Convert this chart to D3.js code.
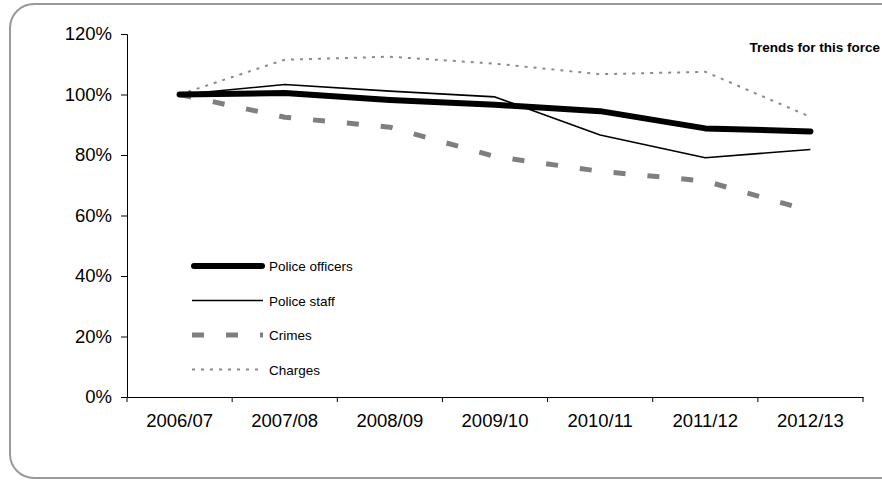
<!DOCTYPE html>
<html>
<head>
<meta charset="utf-8">
<script src="https://cdn.jsdelivr.net/npm/d3@7"></script>
<style>
  body { margin: 0; background: #fff; }
  svg { display: block; font-family: "Liberation Sans", Arial, sans-serif; }
</style>
</head>
<body>
<svg width="882" height="480"></svg>
<script>
const years = ['2006/07', '2007/08', '2008/09', '2009/10', '2010/11', '2011/12', '2012/13'];
const officers = [100, 100.5, 98.2, 96.6, 94.5, 88.8, 87.8];
const staff = [100, 103.3, 101.1, 99.2, 86.6, 79.1, 81.8];
const crimes = [100, 92.5, 89.2, 79.5, 74.6, 71.4, 61.5];
const charges = [100, 111.5, 112.5, 110.2, 106.7, 107.5, 92.6];
const yTicks = [0, 20, 40, 60, 80, 100, 120];

const series = [
  { name: 'Police officers', values: officers, color: '#000', width: 6, dash: null, cap: 'round' },
  { name: 'Police staff', values: staff, color: '#000', width: 1.6, dash: null, cap: 'butt' },
  { name: 'Crimes', values: crimes, color: '#7f7f7f', width: 5, dash: '12,22', cap: 'butt' },
  { name: 'Charges', values: charges, color: '#8a8a8a', width: 2, dash: '3,6', cap: 'butt' },
];

const svg = d3.select('svg');

// rounded frame
svg.append('rect')
  .attr('x', 10).attr('y', 4)
  .attr('width', 900).attr('height', 474)
  .attr('rx', 24).attr('ry', 24)
  .attr('fill', 'none')
  .attr('stroke', '#999')
  .attr('stroke-width', 2);

const plotLeft = 127, plotRight = 863, plotTop = 34, plotBottom = 397;

const x = d3.scaleBand().domain(years).range([plotLeft, plotRight]);
const y = d3.scaleLinear().domain([0, 120]).range([plotBottom, plotTop]);

let yAxis = svg.append('g')
  .attr('transform', `translate(${plotLeft},0)`)
  .call(d3.axisLeft(y).tickValues(yTicks).tickFormat((d) => d + '%').tickSize(6).tickPadding(9));

let xAxis = svg.append('g')
  .attr('transform', `translate(0,${plotBottom})`)
  .call(d3.axisBottom(x).tickSize(0).tickPadding(17));

// tick marks at band edges
xAxis.selectAll('.edge')
  .data(d3.range(years.length + 1))
  .enter()
  .append('line')
  .attr('class', 'edge')
  .attr('x1', (i) => plotLeft + i * x.step())
  .attr('x2', (i) => plotLeft + i * x.step())
  .attr('y1', 0).attr('y2', 5)
  .attr('stroke', '#000');

svg.selectAll('.domain').attr('stroke', '#000');
svg.selectAll('.tick text').attr('font-size', 18.5).attr('fill', '#000').attr('font-family', '"Liberation Sans", Arial, sans-serif');
svg.selectAll('.tick line').attr('stroke', '#000');

const line = d3.line()
  .x((d, i) => x(years[i]) + x.bandwidth() / 2)
  .y((d) => y(d));

svg.selectAll('.series')
  .data(series.slice().reverse())
  .enter()
  .append('path')
  .attr('class', 'series')
  .attr('d', (d) => line(d.values))
  .attr('fill', 'none')
  .attr('stroke', (d) => d.color)
  .attr('stroke-width', (d) => d.width)
  .attr('stroke-dasharray', (d) => d.dash)
  .attr('stroke-linecap', (d) => d.cap)
  .attr('stroke-linejoin', 'round');

// legend
let legend = svg.selectAll('.legend')
  .data(series)
  .enter()
  .append('g')
  .attr('class', 'legend')
  .attr('transform', (d, i) => `translate(0,${266 + i * 34.5})`);

legend.append('line')
  .attr('x1', (d) => (d.cap === 'round' ? 194 : 192))
  .attr('x2', (d) => (d.cap === 'round' ? 262 : 263))
  .attr('stroke', (d) => d.color)
  .attr('stroke-width', (d) => d.width)
  .attr('stroke-dasharray', (d) => d.dash)
  .attr('stroke-linecap', (d) => d.cap);

legend.append('text')
  .attr('x', 269)
  .attr('y', 5)
  .attr('font-size', 13.5)
  .text((d) => d.name);

svg.append('text')
  .attr('x', 880)
  .attr('y', 52)
  .attr('text-anchor', 'end')
  .attr('font-size', 13.5)
  .attr('font-weight', 'bold')
  .text('Trends for this force');
</script>
</body>
</html>
